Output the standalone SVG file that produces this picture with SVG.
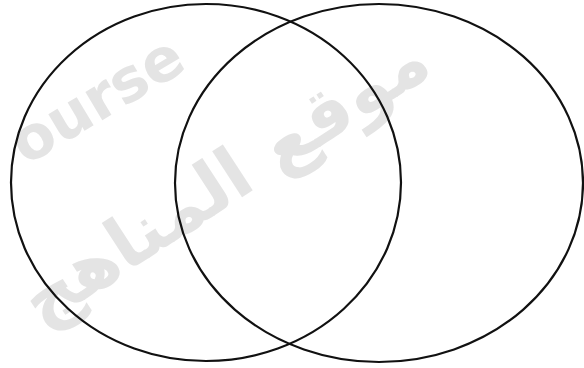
<svg xmlns="http://www.w3.org/2000/svg" width="584" height="368" viewBox="0 0 584 368">
<style>
.set{fill:none;stroke:#111;stroke-width:2.2}
.wm{fill:#e4e4e4;font-family:"DejaVu Sans","Liberation Sans",sans-serif;font-weight:bold}
</style>
<rect width="584" height="368" fill="#fff"/>
<g id="watermark">
<text class="wm" font-size="60" transform="translate(26,166) rotate(-31)">ourse</text>
<text class="wm" font-size="72" text-anchor="middle" transform="translate(238,200) rotate(-33)">موقع المناهج</text>
</g>
<g id="set-a"><ellipse class="set" cx="206" cy="182.5" rx="195" ry="178.5"/></g>
<g id="set-b"><ellipse class="set" cx="379" cy="183" rx="204" ry="179"/></g>
<g id="connectors"></g>
</svg>
